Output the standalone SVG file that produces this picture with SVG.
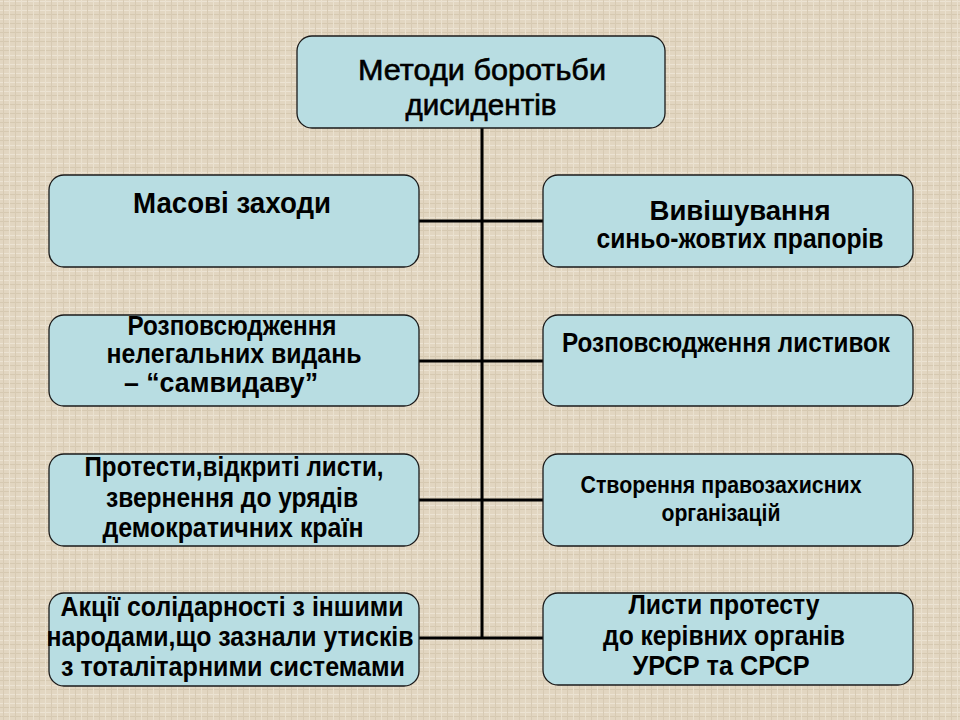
<svg xmlns="http://www.w3.org/2000/svg" width="960" height="720" viewBox="0 0 960 720">
<defs>
<pattern id="linen" width="12" height="9" patternUnits="userSpaceOnUse">
<rect width="12" height="9" fill="#E2D6C1"/>
<rect x="0" y="1" width="12" height="1" fill="#ECE3D3"/>
<rect x="0" y="5" width="12" height="1" fill="#D6C9B1"/>
<rect x="3" y="0" width="1" height="9" fill="#D7CAB3"/>
<rect x="9" y="0" width="1" height="9" fill="#EAE1CF"/>
</pattern>
<style>
.box{fill:#B8DDE2;stroke:#1a1a1a;stroke-width:1.3}
.t{font-family:"Liberation Sans",Arial,sans-serif;font-weight:bold;font-size:27px;fill:#000;text-anchor:middle}
.title{font-weight:normal;font-size:30px;stroke:#000;stroke-width:0.6}
.conn{stroke:#000;stroke-width:3;fill:none}
</style>
</defs>
<rect width="960" height="720" fill="url(#linen)"/>
<g id="connectors">
<line class="conn" x1="482" y1="128" x2="482" y2="639"/>
<line class="conn" x1="419" y1="221" x2="543" y2="221"/>
<line class="conn" x1="419" y1="361" x2="543" y2="361"/>
<line class="conn" x1="419" y1="500" x2="543" y2="500"/>
<line class="conn" x1="419" y1="638" x2="543" y2="638"/>
</g>
<g id="root">
<rect class="box" x="297" y="36" width="368" height="92" rx="15"/>
<text class="t title" x="482" y="80" textLength="248" lengthAdjust="spacingAndGlyphs">Методи боротьби</text>
<text class="t title" x="481" y="115" textLength="151" lengthAdjust="spacingAndGlyphs">дисидентів</text>
</g>
<g id="n-masovi">
<rect class="box" x="49" y="175" width="370" height="92" rx="15"/>
<text class="t" style="font-size:30px" x="232" y="213" textLength="198" lengthAdjust="spacingAndGlyphs">Масові  заходи</text>
</g>
<g id="n-vyvishuvannia">
<rect class="box" x="543" y="175" width="370" height="92" rx="15"/>
<text class="t" x="740" y="220" textLength="181" lengthAdjust="spacingAndGlyphs">Вивішування</text>
<text class="t" x="740" y="248" textLength="287" lengthAdjust="spacingAndGlyphs">синьо-жовтих прапорів</text>
</g>
<g id="n-samvydav">
<rect class="box" x="49" y="315" width="370" height="91" rx="15"/>
<text class="t" x="232" y="335" textLength="209" lengthAdjust="spacingAndGlyphs">Розповсюдження</text>
<text class="t" x="234" y="363" textLength="255" lengthAdjust="spacingAndGlyphs">нелегальних видань</text>
<text class="t" x="221" y="392" textLength="194" lengthAdjust="spacingAndGlyphs">– “самвидаву”</text>
</g>
<g id="n-lystivky">
<rect class="box" x="543" y="315" width="370" height="91" rx="15"/>
<text class="t" x="726" y="352" textLength="328" lengthAdjust="spacingAndGlyphs">Розповсюдження листивок</text>
</g>
<g id="n-protesty">
<rect class="box" x="49" y="454" width="370" height="92" rx="15"/>
<text class="t" x="234" y="476" textLength="299" lengthAdjust="spacingAndGlyphs">Протести,відкриті листи,</text>
<text class="t" x="232" y="507" textLength="252" lengthAdjust="spacingAndGlyphs">звернення до урядів</text>
<text class="t" x="233" y="537" textLength="261" lengthAdjust="spacingAndGlyphs">демократичних країн</text>
</g>
<g id="n-pravozakhysni">
<rect class="box" x="543" y="454" width="370" height="92" rx="15"/>
<text class="t" style="font-size:23px" x="721" y="493" textLength="281" lengthAdjust="spacingAndGlyphs">Створення правозахисних</text>
<text class="t" style="font-size:23px" x="721" y="521" textLength="119" lengthAdjust="spacingAndGlyphs">організацій</text>
</g>
<g id="n-solidarnist">
<rect class="box" x="49" y="593" width="370" height="93" rx="15"/>
<text class="t" x="232" y="616" textLength="343" lengthAdjust="spacingAndGlyphs">Акції солідарності з іншими</text>
<text class="t" x="230" y="646" textLength="367" lengthAdjust="spacingAndGlyphs">народами,що зазнали утисків</text>
<text class="t" x="233" y="676" textLength="344" lengthAdjust="spacingAndGlyphs">з тоталітарними системами</text>
</g>
<g id="n-lysty-protestu">
<rect class="box" x="543" y="593" width="370" height="92" rx="15"/>
<text class="t" x="724" y="614" textLength="191" lengthAdjust="spacingAndGlyphs">Листи протесту</text>
<text class="t" x="724" y="645" textLength="242" lengthAdjust="spacingAndGlyphs">до керівних органів</text>
<text class="t" x="721" y="675" textLength="177" lengthAdjust="spacingAndGlyphs">УРСР та СРСР</text>
</g>
</svg>
